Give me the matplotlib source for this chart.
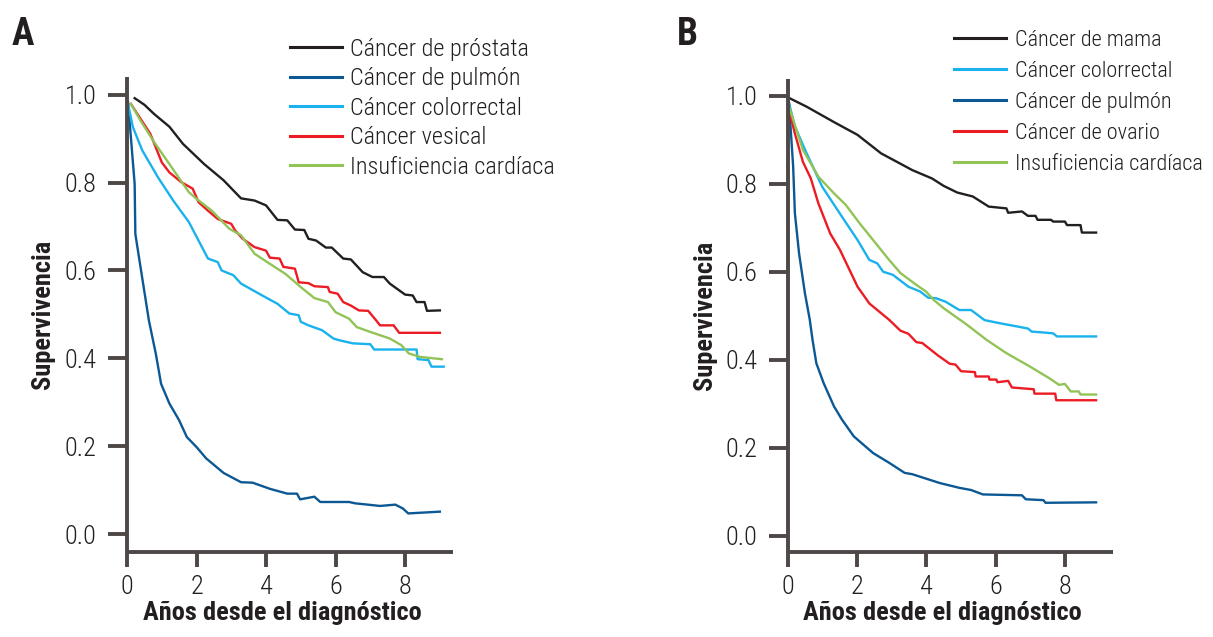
import matplotlib
matplotlib.use("Agg")
import matplotlib.pyplot as plt

# panel A
prostate_t = [0.22, 0.5, 0.78, 1.22, 1.61, 2.22, 2.78, 3.28, 3.67, 4.0, 4.33, 4.61, 4.83, 5.1, 5.22, 5.44,
              5.72, 5.89, 6.22, 6.44, 6.78, 7.06, 7.39, 7.56, 8.0, 8.22, 8.33, 8.56, 8.63, 9.0]
prostate_s = [0.992, 0.977, 0.956, 0.927, 0.888, 0.842, 0.805, 0.764, 0.759, 0.748, 0.715, 0.714, 0.693, 0.692,
              0.672, 0.668, 0.652, 0.652, 0.627, 0.625, 0.596, 0.585, 0.585, 0.570, 0.545, 0.543, 0.528, 0.528,
              0.508, 0.509]
lung_a_t = [0.03, 0.22, 0.24, 0.39, 0.63, 0.83, 0.98, 1.22, 1.5, 1.72, 2.0, 2.28, 2.78, 3.28, 3.61, 4.11, 4.61,
            4.89, 4.98, 5.39, 5.56, 6.39, 6.56, 7.28, 7.72, 7.94, 8.09, 9.0]
lung_a_s = [0.983, 0.797, 0.683, 0.607, 0.486, 0.41, 0.342, 0.297, 0.259, 0.221, 0.198, 0.172, 0.139, 0.118,
            0.117, 0.103, 0.092, 0.092, 0.079, 0.085, 0.073, 0.073, 0.070, 0.064, 0.067, 0.058, 0.047, 0.051]
colo_a_t = [0.03, 0.17, 0.44, 0.89, 1.33, 1.78, 2.33, 2.61, 2.72, 3.06, 3.28, 3.89, 4.33, 4.67, 4.94, 5.0, 5.22,
            5.61, 5.94, 6.11, 6.5, 7.0, 7.11, 8.33, 8.36, 8.67, 8.76, 9.11]
colo_a_s = [0.979, 0.926, 0.873, 0.812, 0.759, 0.710, 0.627, 0.619, 0.600, 0.589, 0.570, 0.543, 0.524, 0.502,
            0.498, 0.483, 0.475, 0.464, 0.445, 0.441, 0.434, 0.432, 0.420, 0.420, 0.398, 0.396, 0.381, 0.381]
vesical_t = [0.11, 0.67, 1.0, 1.22, 1.56, 1.89, 2.06, 2.33, 2.61, 3.0, 3.11, 3.33, 3.67, 4.0, 4.11, 4.39, 4.5,
             4.83, 4.94, 5.22, 5.39, 5.78, 5.83, 6.06, 6.22, 6.44, 6.67, 6.94, 7.17, 7.28, 7.67, 7.83, 9.0]
vesical_s = [0.979, 0.911, 0.846, 0.823, 0.801, 0.786, 0.755, 0.736, 0.717, 0.706, 0.691, 0.672, 0.653, 0.645,
             0.629, 0.627, 0.608, 0.604, 0.573, 0.571, 0.564, 0.562, 0.551, 0.547, 0.528, 0.520, 0.509, 0.508,
             0.486, 0.475, 0.475, 0.458, 0.458]
hf_a_t = [0.11, 0.39, 0.78, 1.22, 1.78, 2.0, 2.44, 2.94, 3.28, 3.67, 4.11, 4.56, 5.0, 5.39, 5.78, 6.0, 6.39,
          6.61, 7.0, 7.56, 7.89, 8.11, 8.44, 9.06]
hf_a_s = [0.979, 0.941, 0.892, 0.842, 0.778, 0.763, 0.736, 0.695, 0.680, 0.638, 0.615, 0.592, 0.562, 0.537,
          0.528, 0.505, 0.490, 0.471, 0.460, 0.445, 0.430, 0.411, 0.403, 0.398]

# panel B
mama_t = [0.03, 0.54, 1.33, 2.01, 2.69, 3.14, 3.59, 4.16, 4.5, 4.89, 5.34, 5.80, 6.31, 6.36, 6.76, 6.93, 7.15,
          7.21, 7.6, 7.66, 8.0, 8.06, 8.45, 8.49, 8.9]
mama_s = [0.995, 0.975, 0.940, 0.911, 0.869, 0.850, 0.831, 0.812, 0.795, 0.780, 0.771, 0.748, 0.744, 0.734,
          0.737, 0.727, 0.727, 0.718, 0.718, 0.714, 0.714, 0.706, 0.706, 0.689, 0.689]
colo_b_t = [0.03, 0.2, 0.54, 0.99, 1.56, 2.01, 2.35, 2.58, 2.75, 3.03, 3.48, 3.82, 4.05, 4.27, 4.55, 4.95, 5.29,
            5.68, 6.25, 6.53, 6.93, 7.04, 7.38, 7.66, 7.77, 8.9]
colo_b_s = [0.983, 0.930, 0.869, 0.793, 0.725, 0.672, 0.627, 0.619, 0.600, 0.593, 0.566, 0.555, 0.541, 0.540,
            0.532, 0.513, 0.513, 0.490, 0.481, 0.477, 0.471, 0.464, 0.462, 0.460, 0.453, 0.453]
lung_b_t = [0.03, 0.15, 0.2, 0.32, 0.49, 0.63, 0.71, 0.82, 1.03, 1.33, 1.56, 1.9, 2.46, 2.92, 3.37, 3.59, 4.38,
            4.95, 5.29, 5.63, 6.76, 6.87, 7.38, 7.44, 8.9]
lung_b_s = [0.983, 0.839, 0.733, 0.642, 0.551, 0.491, 0.445, 0.392, 0.347, 0.294, 0.264, 0.226, 0.188, 0.166,
            0.143, 0.140, 0.120, 0.109, 0.104, 0.094, 0.092, 0.083, 0.081, 0.075, 0.076]
ovario_t = [0.03, 0.2, 0.43, 0.66, 0.88, 1.22, 1.5, 2.01, 2.35, 2.92, 3.25, 3.48, 3.71, 3.88, 4.33, 4.67, 4.84,
            5.0, 5.4, 5.42, 5.8, 5.82, 6.02, 6.05, 6.36, 6.47, 7.1, 7.12, 7.72, 7.75, 8.9]
ovario_s = [0.967, 0.914, 0.850, 0.812, 0.755, 0.687, 0.650, 0.566, 0.528, 0.491, 0.466, 0.459, 0.440, 0.438,
            0.410, 0.391, 0.389, 0.374, 0.372, 0.362, 0.362, 0.355, 0.355, 0.349, 0.352, 0.337, 0.333, 0.323,
            0.323, 0.308, 0.308]
hf_b_t = [0.03, 0.43, 0.88, 1.33, 1.67, 2.07, 2.46, 2.92, 3.25, 3.71, 3.99, 4.21, 4.5, 4.84, 5.18, 5.74, 6.31,
          6.98, 7.55, 7.83, 8.0, 8.17, 8.4, 8.45, 8.9]
hf_b_s = [0.975, 0.877, 0.816, 0.778, 0.752, 0.710, 0.672, 0.627, 0.597, 0.570, 0.555, 0.536, 0.517, 0.498,
          0.479, 0.445, 0.415, 0.385, 0.358, 0.343, 0.345, 0.328, 0.328, 0.321, 0.321]

x_ticks = [0, 2, 4, 6, 8]
y_ticks = [0.0, 0.2, 0.4, 0.6, 0.8, 1.0]
x_label = "Años desde el diagnóstico"
y_label = "Supervivencia"

BLACK = "#231f20"
DARK_BLUE = "#0b5894"
LIGHT_BLUE = "#1ab2ec"
RED = "#ec1c24"
GREEN = "#92c357"
AXIS = "#4d4846"

plt.rcParams["font.family"] = ["Roboto Condensed", "DejaVu Sans"]

fig = plt.figure(figsize=(12.13, 6.37), dpi=100)
ax_a = fig.add_axes([0.1047, 0.134, 0.2688, 0.745])
ax_b = fig.add_axes([0.6496, 0.134, 0.268, 0.742])

series_a = [
    (prostate_t, prostate_s, BLACK, "Cáncer de próstata"),
    (lung_a_t, lung_a_s, DARK_BLUE, "Cáncer de pulmón"),
    (colo_a_t, colo_a_s, LIGHT_BLUE, "Cáncer colorrectal"),
    (vesical_t, vesical_s, RED, "Cáncer vesical"),
    (hf_a_t, hf_a_s, GREEN, "Insuficiencia cardíaca"),
]
series_b = [
    (mama_t, mama_s, BLACK, "Cáncer de mama"),
    (colo_b_t, colo_b_s, LIGHT_BLUE, "Cáncer colorrectal"),
    (lung_b_t, lung_b_s, DARK_BLUE, "Cáncer de pulmón"),
    (ovario_t, ovario_s, RED, "Cáncer de ovario"),
    (hf_b_t, hf_b_s, GREEN, "Insuficiencia cardíaca"),
]


def style_axes(ax, xmax, ymin, ymax):
    ax.set_xlim(0, xmax)
    ax.set_ylim(ymin, ymax)
    for side in ("top", "right"):
        ax.spines[side].set_visible(False)
    for side in ("left", "bottom"):
        ax.spines[side].set_color(AXIS)
        ax.spines[side].set_linewidth(2.8)
        ax.spines[side].set_capstyle("butt")
    ax.set_xticks(x_ticks)
    ax.set_yticks(y_ticks)
    ax.set_yticklabels([f"{v:.1f}" for v in y_ticks])
    ax.tick_params(axis="y", length=14, width=2.8, color=AXIS, pad=8, labelsize=19, labelcolor=BLACK)
    ax.tick_params(axis="x", length=11, width=2.8, color=AXIS, pad=6, labelsize=19, labelcolor=BLACK)
    for lab in ax.get_xticklabels() + ax.get_yticklabels():
        lab.set_fontweight("light")
    ax.set_xlabel(x_label, fontsize=19, fontweight="bold", color=BLACK)
    ax.set_ylabel(y_label, fontsize=19, fontweight="bold", color=BLACK)
    ax.patch.set_visible(False)


def draw(ax, series, legend_anchor, size, hlen, pad, spacing):
    handles = []
    for t, s, c, label in series:
        h, = ax.plot(t, s, color=c, lw=1.7, label=label)
        handles.append(h)
    leg = fig.legend(handles=handles, loc="upper left", bbox_to_anchor=legend_anchor,
                     bbox_transform=fig.transFigure, frameon=False,
                     prop={"size": size, "weight": "light"},
                     handlelength=hlen, handletextpad=pad, labelspacing=spacing, borderpad=0,
                     borderaxespad=0)
    for txt in leg.get_texts():
        txt.set_color(BLACK)
    for line in leg.get_lines():
        line.set_linewidth(2.2)


style_axes(ax_a, 9.38, -0.04, 1.04)
style_axes(ax_b, 9.39, -0.036, 1.038)
draw(ax_a, series_a, (0.2391, 0.941), 17.5, 2.14, 0.33, 0.27)
draw(ax_b, series_b, (0.7865, 0.953), 16, 2.34, 0.4, 0.45)

ax_a.yaxis.set_label_coords(-0.222, 0.5)
ax_a.xaxis.set_label_coords(0.478, -0.105)
ax_b.yaxis.set_label_coords(-0.218, 0.5)
ax_b.xaxis.set_label_coords(0.475, -0.105)

fig.text(0.0099, 0.93, "A", fontsize=27, fontweight="bold", color=BLACK, va="baseline")
fig.text(0.558, 0.93, "B", fontsize=27, fontweight="bold", color=BLACK, va="baseline")

fig.savefig("out.png", dpi=100)
